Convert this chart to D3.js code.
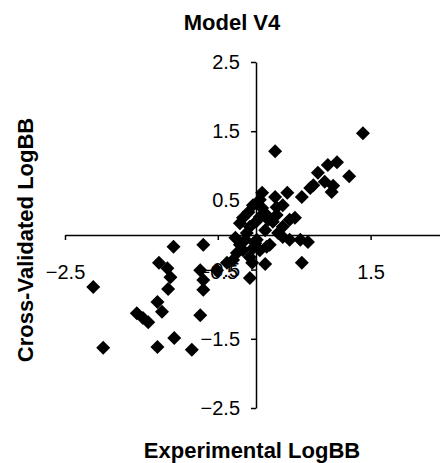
<!DOCTYPE html>
<html>
<head>
<meta charset="utf-8">
<script src="https://cdn.jsdelivr.net/npm/d3@7"></script>
<style>
  body { margin: 0; background: #fff; }
  svg { display: block; font-family: "Liberation Sans", Arial, sans-serif; }
</style>
</head>
<body>
<svg id="chart" width="440" height="463"></svg>
<script>
// values
const experimental = [1.40, 0.25, 1.06, 1.22, 0.81, 0.94, 0.90, 1.01, 0.99, 0.75, 0.60, 0.41, 0.08, 0.27, 0.05,
  -0.10, -0.04, -0.17, -0.21, 0.05, 0.14, 0.27, 0.22, 0.44, 0.35, -0.08, -0.12, 0.01, 0.35, 0.44, 0.58, 0.68,
  0.60, 0.12, -0.08, -0.04, -0.17, -0.08, 0.05, -0.25, -0.30, -0.38, -0.51, -0.21, -0.69, -1.08, -1.27, -1.16,
  -1.12, -1.15, -0.73, -0.69, -0.69, -2.13, -1.29, -1.23, -1.56, -1.48, -1.41, -0.73, -1.07, -1.29, -2.00, -0.84,
  0.00, 0.12, -0.14, 0.18, 0.08, 0.51,
  0.25, 0.35, 0.16, 0.29, -0.27, -0.01, 0.14, -0.05, 0.71];
const crossValidated = [1.47, 1.21, 1.05, 0.85, 0.90, 1.01, 0.77, 0.71, 0.62, 0.72, 0.55, 0.61, 0.61, 0.40, 0.51,
  0.33, 0.43, 0.25, 0.17, 0.26, 0.29, 0.29, 0.19, 0.22, 0.12, 0.12, 0.03, -0.07, -0.03, -0.07, -0.07, -0.10,
  -0.40, -0.42, -0.62, -0.19, -0.22, -0.32, -0.22, -0.26, -0.36, -0.40, -0.51, -0.14, -0.14, -0.17, -0.40, -0.48,
  -0.61, -0.78, -0.51, -0.65, -0.79, -0.75, -0.97, -1.11, -1.13, -1.20, -1.26, -1.16, -1.49, -1.62, -1.63, -1.66,
  0.19, 0.07, -0.07, -0.14, 0.39, 0.25,
  0.55, 0.43, 0.22, 0.03, -0.04, -0.12, -0.17, -0.40, 0.68];
const xTicks = [-2.5, -0.5, 1.5];
const yTicks = [-2.5, -1.5, -0.5, 0.5, 1.5, 2.5];

const points = experimental.map((v, i) => ({ x: v, y: crossValidated[i] }));

const svg = d3.select("#chart");
const x = d3.scaleLinear().domain([-2.5, 2.5]).range([65, 447]);
const y = d3.scaleLinear().domain([-2.5, 2.5]).range([408, 62]);

// x axis crosses at y = 0
const xAxis = svg.append("g")
  .attr("transform", `translate(0,${y(0)})`)
  .call(d3.axisBottom(x).tickValues(xTicks).tickFormat(d3.format(".1f"))
    .tickSize(5).tickSizeOuter(0).tickPadding(25));

// y axis crosses at x = 0
const yAxis = svg.append("g")
  .attr("transform", `translate(${x(0)},0)`)
  .call(d3.axisLeft(y).tickValues(yTicks).tickFormat(d3.format(".1f"))
    .tickSize(5).tickSizeOuter(0).tickPadding(11));

[xAxis, yAxis].forEach(a => {
  a.select(".domain").attr("stroke", "#000").attr("stroke-width", 1.5);
  a.selectAll(".tick line").attr("stroke", "#000").attr("stroke-width", 1.5);
  a.selectAll("text").attr("fill", "#000").style("font-size", "20px")
    .style("font-family", "'Liberation Sans', Arial, sans-serif");
});

// diamond marker (square turned 45 degrees)
const diamond = {
  draw(ctx, size) {
    const r = Math.sqrt(size / 2);
    ctx.moveTo(0, -r);
    ctx.lineTo(r, 0);
    ctx.lineTo(0, r);
    ctx.lineTo(-r, 0);
    ctx.closePath();
  }
};

svg.append("g")
  .selectAll("path")
  .data(points)
  .enter()
  .append("path")
  .attr("d", d3.symbol().type(diamond).size(98))
  .attr("transform", d => `translate(${x(d.x)},${y(d.y)})`)
  .attr("fill", "#000");

// Title
svg.append("text")
  .attr("x", 232)
  .attr("y", 30)
  .attr("text-anchor", "middle")
  .style("font-size", "22px")
  .style("font-weight", "bold")
  .text("Model V4");

// X-axis Label
svg.append("text")
  .attr("x", 252)
  .attr("y", 458)
  .attr("text-anchor", "middle")
  .style("font-size", "22px")
  .style("font-weight", "bold")
  .text("Experimental LogBB");

// Y-axis Label
svg.append("text")
  .attr("transform", "rotate(-90)")
  .attr("x", -240)
  .attr("y", 33)
  .attr("text-anchor", "middle")
  .style("font-size", "22px")
  .style("font-weight", "bold")
  .text("Cross-Validated LogBB");
</script>
</body>
</html>
